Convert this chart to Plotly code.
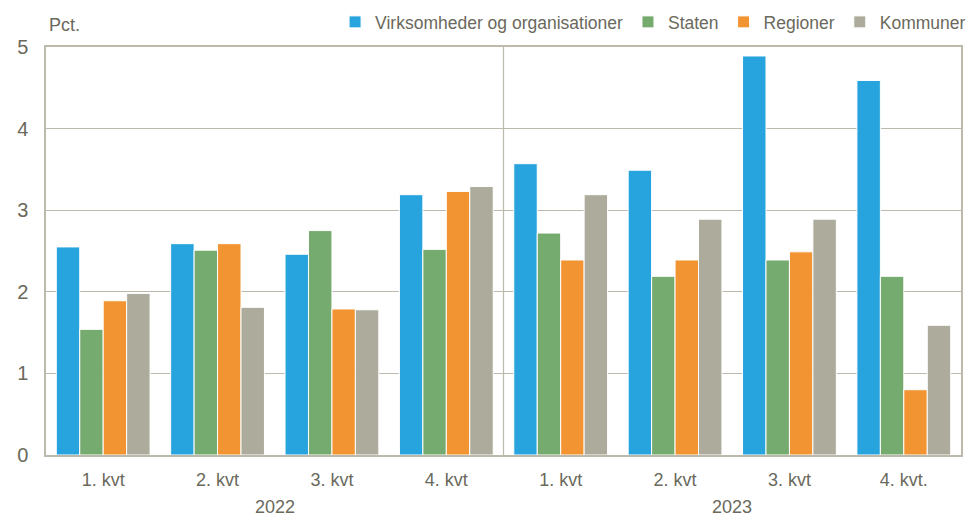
import plotly.graph_objects as go

quarters = ["1. kvt", "2. kvt", "3. kvt", "4. kvt", "1. kvt", "2. kvt", "3. kvt", "4. kvt."]
years = ["2022", "2023"]
series_names = ["Virksomheder og organisationer", "Staten", "Regioner", "Kommuner"]
virksomheder = [2.55, 2.59, 2.46, 3.19, 3.57, 3.49, 4.89, 4.59]
staten = [1.54, 2.51, 2.75, 2.52, 2.72, 2.19, 2.39, 2.19]
regioner = [1.89, 2.59, 1.79, 3.23, 2.39, 2.39, 2.49, 0.80]
kommuner = [1.98, 1.81, 1.78, 3.29, 3.19, 2.89, 2.89, 1.59]
colors = ["#27A3DD", "#76AB6F", "#F29432", "#ADAC9C"]

W, H = 974, 516
L, R, T, B = 46, 13, 47, 61
PW, PH = W - L - R, H - T - B

def py(pix):
    return (H - B - pix) / PH

xpos = list(range(len(quarters)))
fig = go.Figure()
for name, vals, c in zip(series_names, [virksomheder, staten, regioner, kommuner], colors):
    fig.add_trace(go.Bar(x=xpos, y=vals, name=name, marker=dict(color=c, line=dict(color="white", width=1))))

txt = "#6A695C"
grid = "#BDBAAD"
fam = "Liberation Sans, Arial, sans-serif"
fig.update_layout(
    width=W, height=H,
    margin=dict(l=L, r=R, t=T, b=B, autoexpand=False),
    plot_bgcolor="white", paper_bgcolor="white",
    barmode="group", bargap=0.18, bargroupgap=0,
    font=dict(family=fam, size=18, color=txt),
    legend=dict(orientation="h", x=0.997, xanchor="right", xref="container",
                y=1 - 22 / H, yanchor="middle", yref="container",
                font=dict(size=17.5, color=txt, family=fam), itemwidth=30, tracegroupgap=0,
                bgcolor="rgba(0,0,0,0)"),
    showlegend=True,
)
fig.update_xaxes(range=[-0.5, 7.5], tickvals=xpos, ticktext=quarters, showline=True, mirror=True,
                 linecolor=grid, linewidth=1.5, showgrid=False, zeroline=False, ticks="",
                 tickfont=dict(size=18, color=txt, family=fam), automargin=False,
                 ticklabelstandoff=8)
fig.update_yaxes(range=[0, 5], dtick=1, showline=True, mirror=True, linecolor=grid, linewidth=1.5,
                 showgrid=True, gridcolor=grid, gridwidth=1.2, zeroline=False, ticks="",
                 tickfont=dict(size=20, color=txt, family=fam), ticklabelstandoff=12,
                 automargin=False)
fig.add_shape(type="line", x0=3.5, x1=3.5, y0=0, y1=5, xref="x", yref="y",
              line=dict(color=grid, width=1.2))
for i, yr in enumerate(years):
    fig.add_annotation(x=1.5 + 4 * i, y=py(507), xref="x", yref="paper", text=yr,
                       showarrow=False, font=dict(size=18, color=txt, family=fam), yanchor="middle")
fig.add_annotation(x=(47 - L) / PW, y=py(25), xref="paper", yref="paper", text="Pct.",
                   showarrow=False, xanchor="left", yanchor="middle",
                   font=dict(size=18, color=txt, family=fam))
fig.write_html("out.html", config={"displayModeBar": False},
               post_script="document.body.style.margin='0';document.body.style.overflow='hidden';")
